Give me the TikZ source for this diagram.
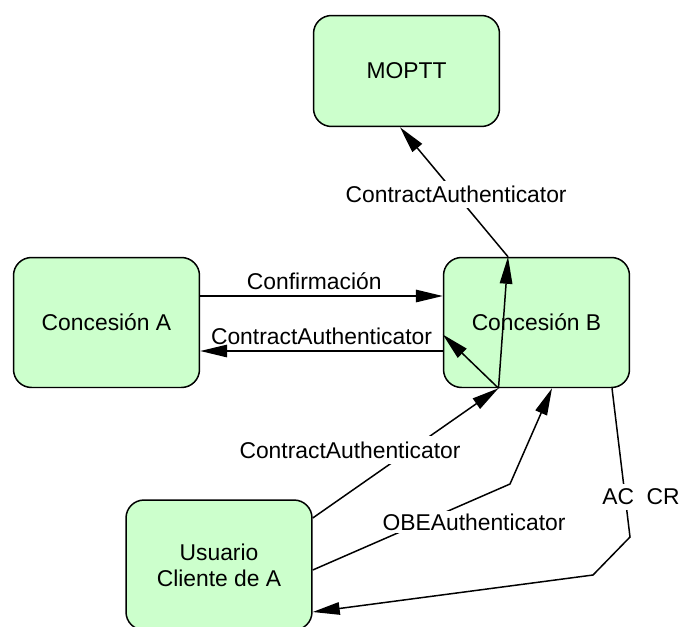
\documentclass[tikz,border=0pt]{standalone}
\usepackage{fontspec}
\setmainfont{Liberation Sans}
\usepackage{tikz}
\usetikzlibrary{positioning,calc,arrows.meta}
\definecolor{boxgreen}{RGB}{204,255,204}

\begin{document}
\begin{tikzpicture}[
  x=0.02cm, y=-0.02cm,
  font=\fontsize{13}{15}\selectfont,
  box/.style={draw, rounded corners=0.36cm, fill=boxgreen, align=center, minimum width=3.72cm, minimum height=2.6cm, line width=0.85pt},
  msg/.style={-{Triangle[length=0.54cm,width=0.25cm]}, line width=0.85pt},
  lbl/.style={fill=white, inner sep=3pt}
]
\useasboundingbox (0,0) rectangle (682,626);
\node[box, minimum height=2.22cm] (moptt) at (406.5,71) {MOPTT};
\node[box] (concA) at (106.5,322.5) {Concesión A};
\node[box] (concB) at (536.5,322.5) {Concesión B};
\node[box] (usuario) at (219,565) {Usuario\\Cliente de A};

\coordinate (bLow) at ($(concB.south)+(-38,0)$);
\coordinate (bTop) at ($(concB.north)+(-28.5,0)$);
\coordinate (obeBend) at (510,484);
\coordinate (acBendA) at (630,537);
\coordinate (acBendB) at (593,575);

\draw[msg] ($(concA.east)+(0,-26.5)$) -- ($(concB.west)+(0,-26.5)$) node[pos=0.47, above] {Confirmación};
\draw[msg] ($(concB.west)+(0,28.5)$) -- ($(concA.east)+(0,28.5)$) node[midway, above] {ContractAuthenticator};
\draw[msg] ($(usuario.east)+(0,-47)$) -- (bLow);
\node[lbl] (caLow) at (350,450) {ContractAuthenticator};
\draw[msg] (bLow) -- ($(concB.west)+(0,12)$);
\draw[msg] (bLow) -- (bTop);
\draw[msg] (bTop) -- ($(moptt.south)+(-6.5,0)$) node[lbl, pos=0.48] (caTop) {ContractAuthenticator};
\draw[msg] ($(usuario.east)+(0,5)$) -- (obeBend) -- ($(concB.south)+(15.5,0)$);
\node[lbl, inner sep=1.5pt] (obe) at (474,522) {OBEAuthenticator};
\draw[msg] ($(concB.south)+(75.5,0)$) -- (acBendA) -- (acBendB) -- ($(usuario.east)+(0,47)$);
\node[lbl] (accr) at (641,497) {AC\ \ CR};
\end{tikzpicture}
\end{document}
